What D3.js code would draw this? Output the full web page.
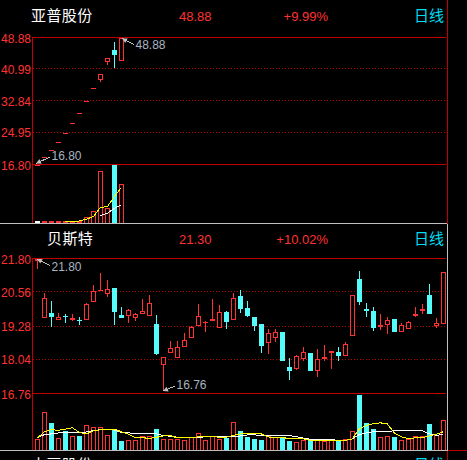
<!DOCTYPE html>
<html><head><meta charset="utf-8">
<script src="https://cdn.jsdelivr.net/npm/d3@7"></script>
<style>
html,body{margin:0;padding:0;background:#000;overflow:hidden;width:467px;height:460px}
svg{display:block}
text{font-family:"Liberation Sans",Arial,sans-serif}
.cjk{font-family:"Noto Sans CJK SC",sans-serif}
</style></head><body><svg id="c" width="467" height="460"></svg>
<script>
// ---------- 亚普股份 ----------
const nameA = "亚普股份", priceA = "48.88", pctA = "+9.99%";
const ticksA = [48.88, 40.99, 32.84, 24.95, 16.80];
const openA  = [16.80,18.74,20.41,22.53,24.80,27.33,29.86,32.89,36.17,38.35,42.82,45.60,43.15];
const closeA = [16.80,18.74,20.41,22.53,24.80,27.33,29.86,32.89,36.17,39.71,43.75,44.66,48.88];
const highA  = [16.80,18.74,20.41,22.53,24.80,27.33,29.86,32.89,36.17,39.71,43.75,47.62,48.88];
const lowA   = [16.80,18.74,20.41,22.53,24.80,27.33,29.86,32.89,36.17,37.59,41.81,41.05,43.15];
const volA   = [3.4,3,3,3,3,3,3,10,21,89,26,100,68];
const ma5A   = [null,null,null,null,3,3,3.4,6.5,11,27,28,45,61];
const ma10A  = [null,null,null,null,null,null,null,null,null,12.6,16.7,25,31];
// ---------- 贝斯特 ----------
const nameB = "贝斯特", priceB = "21.30", pctB = "+10.02%";
const ticksB = [21.80, 20.56, 19.28, 18.04, 16.76];
const openB = [21.75,19.62,19.76,19.54,19.67,19.54,19.52,19.54,20.22,20.62,20.52,20.69,19.69,19.69,19.63,19.78,19.69,19.34,17.87,18.30,18.12,18.55,18.88,19.33,19.42,19.49,19.25,19.79,19.53,20.39,19.94,19.61,19.34,18.68,18.88,19.05,17.74,17.70,18.07,18.26,17.64,18.09,18.31,18.30,18.21,18.95,21.03,19.91,19.83,19.27,19.36,19.53,19.10,19.21,19.68,19.88,20.43,19.32,19.39];
const closeB = [21.78,20.34,19.66,19.63,19.64,19.57,19.49,20.12,20.60,20.64,20.68,19.83,19.62,19.86,19.71,19.84,20.15,18.26,18.11,18.47,18.51,18.77,19.26,19.67,19.44,19.53,19.82,19.47,20.34,19.96,19.68,19.32,18.56,19.03,19.05,18.00,17.64,18.17,18.32,17.64,18.06,18.11,18.33,18.20,18.62,20.45,20.20,19.88,19.25,19.33,19.52,19.10,19.30,19.44,19.74,19.91,19.77,19.41,21.31];
const highB = [21.80,20.52,20.20,19.78,19.74,19.74,19.62,20.15,20.80,21.25,20.98,20.69,19.98,19.92,19.76,20.28,20.43,19.68,18.11,18.71,18.72,19.03,19.27,20.09,19.47,20.28,20.06,19.83,20.52,20.62,20.20,19.63,19.37,19.18,19.18,19.05,18.07,18.21,18.48,18.29,18.41,18.58,18.36,18.48,18.70,20.45,21.33,20.15,19.98,19.72,19.63,19.53,19.41,19.48,19.98,20.12,20.84,19.59,21.31];
const lowB = [21.40,19.62,19.25,19.54,19.39,19.46,19.31,19.51,20.22,20.62,20.37,19.31,19.58,19.39,19.46,19.78,19.69,18.20,16.85,18.26,18.12,18.55,18.88,19.33,19.06,19.47,19.22,19.17,19.51,19.77,19.62,19.08,18.26,18.22,18.68,17.96,17.25,17.64,17.97,17.64,17.36,17.96,17.67,17.96,18.21,18.92,20.06,19.61,19.08,19.12,18.97,19.10,19.10,19.21,19.63,19.73,19.77,19.20,19.39];
const volB = [20.5,67.8,49.1,22.2,33.3,25.7,24.6,45,41.5,41.5,27.5,38,15.8,17,17.5,25.7,25.7,36.8,20.5,19.3,19.3,17.5,24,31,18.7,25.7,20.5,22.2,50.3,34.5,22.8,20.5,18.7,24.6,22.8,22.2,15.8,13.5,17,17.5,18.1,15.8,17,17,20.5,34.5,98.2,47.4,36.8,24,25.7,22.8,17,19.3,25.7,25.7,45.6,26.3,53.8];
const ma5B = [21.6,32.2,36.3,35.1,37.4,39.8,31.6,28.7,33.9,36.3,37.4,37.4,32.7,28.1,22.2,22.2,20.5,22.8,25.1,25.7,21.6,21.6,22.2,23.4,23.4,23.4,23.1,22.8,26.3,28.7,29.2,29.2,28.7,23.4,22.2,22.2,20.5,20.5,19.9,17.5,17.5,17.5,17.5,17,17,19.9,37.4,43.9,46.8,48.5,46.8,30.4,23.4,20.5,21.6,22.2,25.1,28.1,32.7];
const ma10B = [21.6,27.5,28.7,30.4,31,31,31,32.2,34.5,36.3,36.3,35.7,31.6,31,28.7,28.7,28.7,28.7,25.7,24.6,22.8,22.2,22.2,22.8,23.4,24,24,23.4,24,25.1,26.9,26.9,26.3,25.1,25.7,25.7,25.7,24,21.1,19.3,18.7,18.7,18.7,17,17,19.9,27.5,30.4,32.7,32.7,32.7,34.5,34.5,34.5,34.5,34.5,28.7,26.3,27.5];
// ---------- 第三个面板（被裁切）----------
const nameC = "大豆股份";
const periodLabel = "日线";

const RED="#ff3232", CYAN="#54fcfc", LINE="#c00000", GRAY="#c0c0c0", LABEL="#a8b4c0", PERIOD="#00dcf0";
const svg=d3.select("#c");
const x=d3.scaleLinear().domain([0,58]).range([37.3,443.3]);
const px=i=>Math.round(x(i));

function hline(g,x1,x2,y,col,dash){
  const yy=Math.floor(y)+.5;
  g.append("line").attr("x1",x1).attr("x2",x2).attr("y1",yy).attr("y2",yy).attr("stroke",col).attr("stroke-dasharray",dash||null);
}
function vline(g,xx,y1,y2,col){
  g.append("line").attr("x1",xx+.5).attr("x2",xx+.5).attr("y1",y1).attr("y2",y2).attr("stroke",col);
}

function panel(p){
  const g=svg.append("g").attr("shape-rendering","crispEdges");
  const y=d3.scaleLinear().domain([p.ticks[p.ticks.length-1],p.ticks[0]]).range([p.bottom,p.top]);
  const v=d3.scaleLinear().domain([0,100]).range([p.vBase,p.bottom+.5]);

  // dotted grid
  p.ticks.slice(1,-1).forEach(t=>hline(g,33,445,y(t),"#c00000","1 2"));

  // candles
  p.open.forEach((o,i)=>{
    const c=p.close[i], cx=px(i), up=c>=o, col=up?RED:CYAN;
    g.append("line").attr("x1",cx+.5).attr("x2",cx+.5).attr("y1",y(p.high[i])).attr("y2",y(p.low[i])).attr("stroke",col);
    const t=Math.round(y(Math.max(o,c))), b=Math.round(y(Math.min(o,c)));
    if(b-t<1){
      g.append("rect").attr("x",cx-2).attr("y",t).attr("width",5).attr("height",1).attr("fill",col);
    }else if(up){
      g.append("rect").attr("x",cx-1.5).attr("y",t+.5).attr("width",4).attr("height",b-t).attr("fill","#000").attr("stroke",col);
    }else{
      g.append("rect").attr("x",cx-2).attr("y",t).attr("width",5).attr("height",b-t+1).attr("fill",col);
    }
  });

  // volume bars
  p.vol.forEach((d,i)=>{
    const cx=px(i), t=Math.round(v(d)), b=p.vBase, up=p.close[i]>=p.open[i];
    const col=(p.firstWhite&&i===0)?"#fff":(up?RED:CYAN);
    if(!up||b-t<4){
      g.append("rect").attr("x",cx-2).attr("y",t).attr("width",5).attr("height",b-t).attr("fill",col);
    }else{
      g.append("rect").attr("x",cx-1.5).attr("y",t+.5).attr("width",4).attr("height",b-t).attr("fill","#000").attr("stroke",col);
    }
  });

  // moving averages on volume
  const ln=d3.line().defined(d=>d!=null).x((d,i)=>x(i)).y(d=>v(d));
  g.append("path").attr("d",ln(p.ma10)).attr("fill","none").attr("stroke","#fff");
  g.append("path").attr("d",ln(p.ma5)).attr("fill","none").attr("stroke","#ffff00");

  // frame
  hline(g,32,446,y(p.ticks[0]),LINE);
  hline(g,32,446,y(p.ticks[p.ticks.length-1]),LINE);
  vline(g,32,p.top,p.vBase,LINE);

  // price axis
  const ax=svg.append("g").attr("transform","translate(32,0.7)")
    .call(d3.axisLeft(y).tickValues(p.ticks).tickFormat(d3.format(".2f")).tickSize(0).tickPadding(1));
  ax.select(".domain").remove();
  ax.selectAll("text").attr("fill",RED).style("font-size","12px").style("font-family",'"Liberation Sans",Arial,sans-serif');

  // header
  svg.append("text").attr("class","cjk").attr("x",p.nameX).attr("y",p.head+5).attr("fill","#fff").style("font-size","15px").style("letter-spacing","0.4px").text(p.name);
  svg.append("text").attr("x",179).attr("y",p.head+4.5).attr("fill",RED).style("font-size","13px").text(p.price);
  svg.append("text").attr("x",328).attr("y",p.head+4.5).attr("text-anchor","end").attr("fill",RED).style("font-size","13px").text(p.pct);
  svg.append("text").attr("class","cjk").attr("x",414).attr("y",p.head+5).attr("fill",PERIOD).style("font-size","15px").text(periodLabel);

  // callouts
  p.notes.forEach(n=>{
    const tx=px(n.i)+n.ox, ty=y(n.v)+n.oy, ex=tx+n.dx, ey=ty+n.dy;
    const a=Math.atan2(n.dy,n.dx), L=5, W=2.6;
    const bx=tx+L*Math.cos(a), by=ty+L*Math.sin(a);
    svg.append("line").attr("x1",tx).attr("y1",ty).attr("x2",ex).attr("y2",ey).attr("stroke",GRAY).attr("shape-rendering","crispEdges");
    svg.append("path").attr("d",`M${tx},${ty}L${bx-W*Math.sin(a)},${by+W*Math.cos(a)}L${bx+W*Math.sin(a)},${by-W*Math.cos(a)}Z`).attr("fill",GRAY);
    svg.append("text").attr("x",ex+1.5).attr("y",ey+n.ty).attr("fill",LABEL).style("font-size","12px").text(n.label);
  });
}

panel({name:nameA,nameX:31,price:priceA,pct:pctA,head:16,ticks:ticksA,top:37.5,bottom:164.5,vBase:223,
  open:openA,close:closeA,high:highA,low:lowA,vol:volA,ma5:ma5A,ma10:ma10A,firstWhite:true,
  notes:[{i:12,v:48.88,ox:1,oy:1,dx:12,dy:6,ty:4,label:"48.88"},{i:0,v:16.80,ox:-1,oy:-1,dx:14,dy:-6.5,ty:3,label:"16.80"}]});
panel({name:nameB,nameX:47,price:priceB,pct:pctB,head:239,ticks:ticksB,top:258.5,bottom:393.5,vBase:450,
  open:openB,close:closeB,high:highB,low:lowB,vol:volB,ma5:ma5B,ma10:ma10B,firstWhite:false,
  notes:[{i:0,v:21.80,ox:0,oy:0.5,dx:13,dy:6.5,ty:5,label:"21.80"},{i:18,v:16.85,ox:0,oy:0,dx:12,dy:-5,ty:3,label:"16.76"}]});

// cell borders
const f=svg.append("g").attr("shape-rendering","crispEdges");
vline(f,447,0,224,LINE);
vline(f,447,451,460,LINE);
hline(f,447,467,450,LINE);
hline(f,0,447,223,GRAY);
hline(f,0,447,450,GRAY);
vline(f,447,224,451,GRAY);

// clipped third panel header
svg.append("text").attr("class","cjk").attr("x",31).attr("y",470).attr("fill","#fff").style("font-size","15px").style("letter-spacing","0.4px").text(nameC);
svg.append("text").attr("class","cjk").attr("x",414).attr("y",470).attr("fill",PERIOD).style("font-size","15px").text(periodLabel);
</script></body></html>
